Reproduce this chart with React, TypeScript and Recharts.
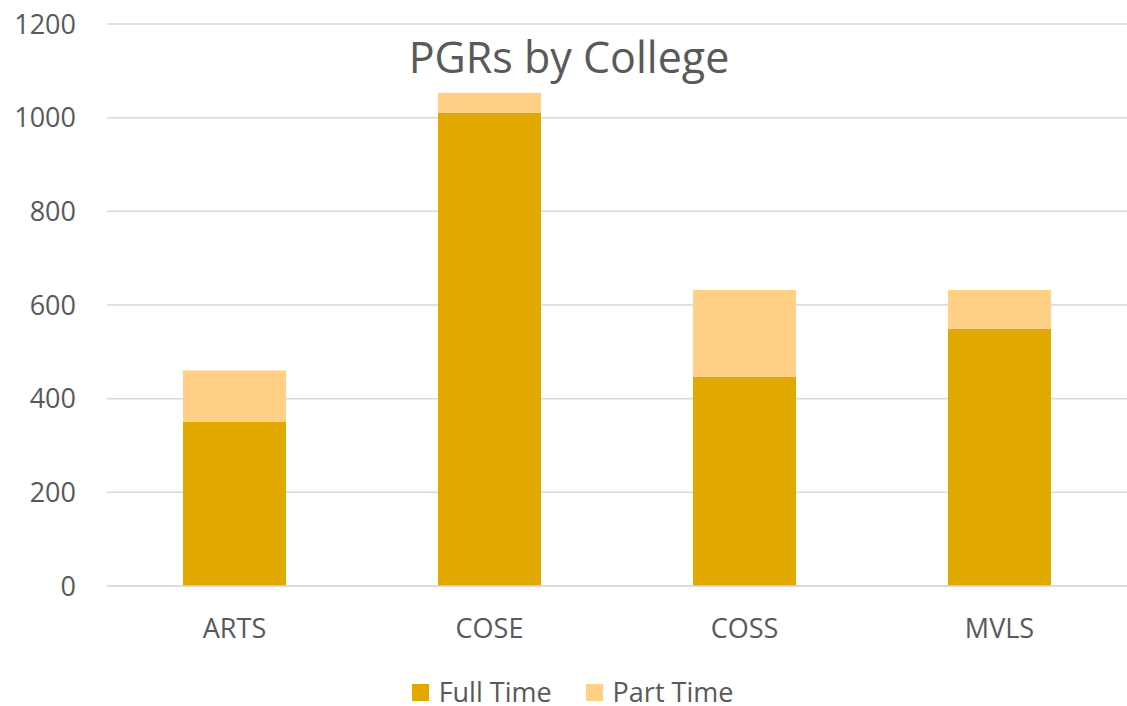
import { BarChart, Bar, XAxis, YAxis, CartesianGrid, Legend } from 'recharts'

const colleges = ['ARTS', 'COSE', 'COSS', 'MVLS']
const fullTime = [350, 1010, 446, 549]
const partTime = [110, 43, 186, 83]
const yTicks = [0, 200, 400, 600, 800, 1000, 1200]

const data = colleges.map((college, i) => ({
  college,
  full: fullTime[i],
  part: partTime[i],
}))

const FONT = '"Open Sans", "Liberation Sans", sans-serif'
const TEXT = '#595959'
const FULL_COLOR = '#e1a900'
const PART_COLOR = '#ffd086'

function LegendContent() {
  const items = [
    { label: 'Full Time', color: FULL_COLOR },
    { label: 'Part Time', color: PART_COLOR },
  ]
  return (
    <div style={{ display: 'flex', justifyContent: 'center', alignItems: 'center', paddingLeft: 52, height: 26 }}>
      {items.map((it) => (
        <div key={it.label} style={{ display: 'flex', alignItems: 'center', marginRight: 34 }}>
          <span style={{ width: 17, height: 17, background: it.color, marginRight: 10 }} />
          <span style={{ color: TEXT, fontSize: 27, lineHeight: '26px', fontFamily: FONT }}>{it.label}</span>
        </div>
      ))}
    </div>
  )
}

export default function App() {
  return (
    <div style={{ position: 'absolute', left: 0, top: 0, width: 1127, height: 706, fontFamily: FONT }}>
      <BarChart
        width={1127}
        height={706}
        data={data}
        margin={{ top: 24, right: 0, left: 0, bottom: 0 }}
        barCategoryGap="29.8%"
      >
        <CartesianGrid vertical={false} stroke="#d9d9d9" strokeWidth={1.5} />
        <XAxis
          dataKey="college"
          axisLine={{ stroke: '#d9d9d9', strokeWidth: 1.5 }}
          tickLine={false}
          tick={{ fontSize: 27, fill: TEXT, fontFamily: FONT }}
          tickMargin={27}
          height={94}
        />
        <YAxis
          width={107}
          domain={[0, 1200]}
          ticks={yTicks}
          axisLine={false}
          tickLine={false}
          tick={{ fontSize: 27, fill: TEXT, fontFamily: FONT }}
          tickMargin={25}
        />
        <Legend
          content={<LegendContent />}
          wrapperStyle={{ position: 'absolute', top: 679, left: 0, width: 1127, height: 26 }}
        />
        <Bar dataKey="full" name="Full Time" stackId="a" fill={FULL_COLOR} isAnimationActive={false} />
        <Bar dataKey="part" name="Part Time" stackId="a" fill={PART_COLOR} isAnimationActive={false} />
      </BarChart>
      <div
        style={{
          position: 'absolute',
          left: 0,
          width: 1138,
          top: 27,
          textAlign: 'center',
          fontSize: 43,
          color: TEXT,
          fontFamily: FONT,
        }}
      >
        PGRs by College
      </div>
    </div>
  )
}
